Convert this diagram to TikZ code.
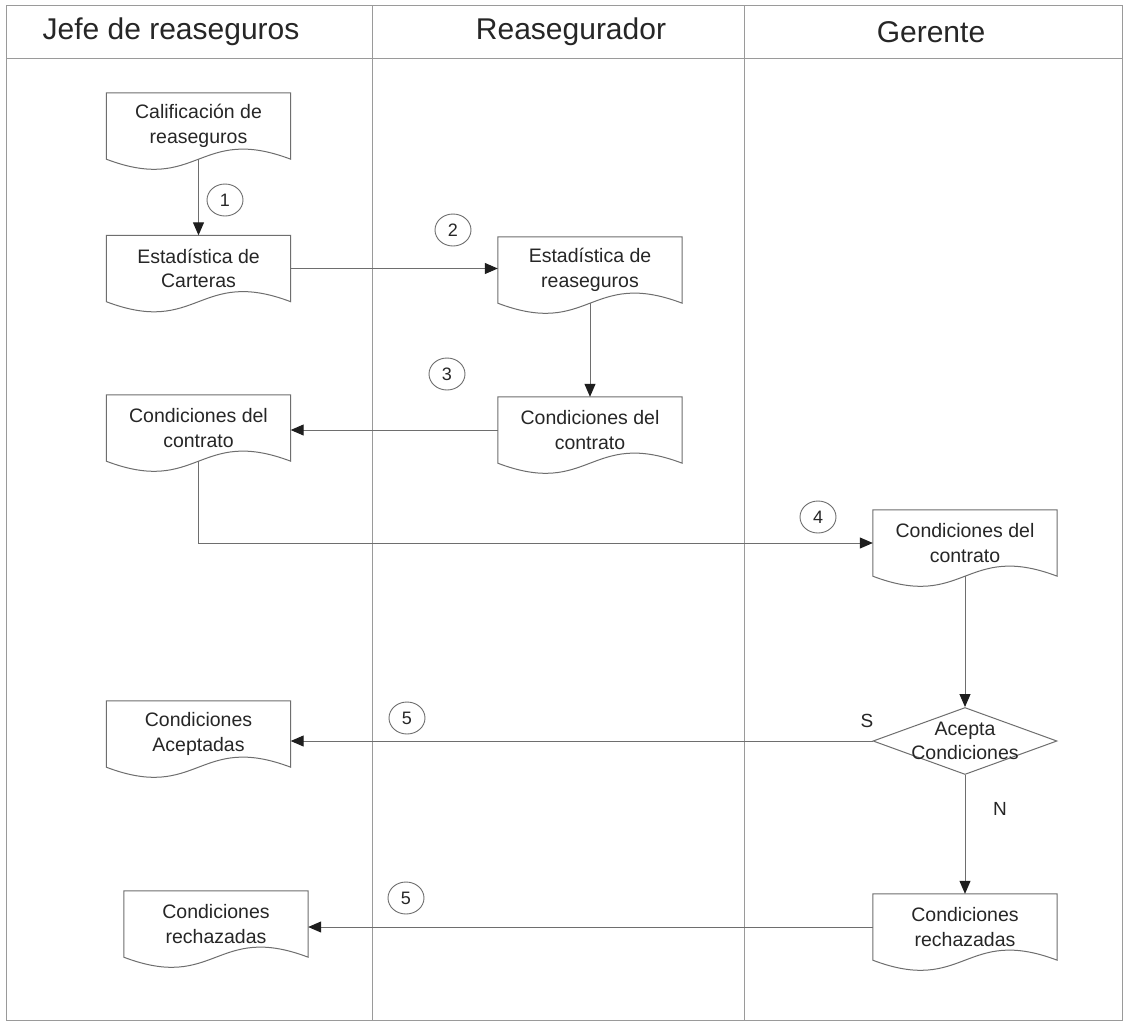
\documentclass[tikz,border=0pt]{standalone}
\usepackage{fontspec}
\setmainfont{Liberation Sans}
\usetikzlibrary{arrows.meta,shapes.geometric,calc}
\definecolor{ink}{HTML}{262626}
\definecolor{rule}{HTML}{9A9A9A}
\definecolor{edge}{HTML}{6E6E6E}
\definecolor{tip}{HTML}{1E1E1E}

% document symbol: rectangle with a wavy bottom edge
\newcommand\docoutline[1]{%
  \draw[docline] (#1.south west) -- (#1.north west) -- (#1.north east) -- (#1.south east)
    .. controls ($(#1.south)+(0,-35)$) and ($(#1.south)+(0,35)$) .. (#1.south west) -- cycle;}

\begin{document}
\begin{tikzpicture}[x=1pt,y=-1pt,
  docbox/.style={rectangle, minimum width=184pt, minimum height=66pt, inner sep=0pt,
    align=center, text=ink, font=\fontsize{19.5}{24.5}\selectfont},
  docline/.style={draw=edge, line width=1pt},
  head/.style={text=ink, font=\fontsize{30}{36}\selectfont},
  num/.style={ellipse, draw=edge, line width=0.9pt, minimum width=36pt, minimum height=32pt,
    inner sep=0pt, text=ink, font=\fontsize{18}{20}\selectfont},
  lbl/.style={text=ink, font=\fontsize{19}{22}\selectfont},
  flow/.style={draw=edge, line width=1pt, -{Triangle[length=13pt,width=11pt,color=tip]}},
  decision/.style={diamond, draw=edge, line width=1pt, minimum width=184pt, minimum height=67pt,
    aspect=2.75, inner sep=0pt}
]
\useasboundingbox (0,0) rectangle (1125,1023);
\fill[white] (0,0) rectangle (1125,1023);

% swimlane frame
\draw[rule, line width=1pt] (6,5) rectangle (1122,1020);
\draw[rule, line width=1pt] (6,58) -- (1122,58);
\draw[rule, line width=1pt] (372,5) -- (372,1020);
\draw[rule, line width=1pt] (744,5) -- (744,1020);

% lane titles
\node[head] (h1) at (171,32) {Jefe de reaseguros};
\node[head] (h2) at (571,32) {Reasegurador};
\node[head] (h3) at (931,32) {Gerente};

% documents
\node[docbox] (A) at (198.5,126) {Calificación de\\reaseguros};
\node[docbox] (B) at (198.5,268.5) {Estadística de\\Carteras};
\node[docbox] (C) at (590,270) {Estadística de\\reaseguros};
\node[docbox] (D) at (590,430) {Condiciones del\\contrato};
\node[docbox] (E) at (198.5,428) {Condiciones del\\contrato};
\node[docbox] (F) at (965,543) {Condiciones del\\contrato};
\node[docbox] (G) at (198.5,734) {Condiciones\\Aceptadas};
\node[docbox] (H) at (965,927) {Condiciones\\rechazadas};
\node[docbox] (I) at (216,924) {Condiciones\\rechazadas};
\foreach \n in {A,B,C,D,E,F,G,H,I} {\docoutline{\n}}

% decision
\node[decision] (Q) at (965,741) {};
\node[text=ink, align=center, font=\fontsize{19.5}{24.5}\selectfont] (Qt) at (Q) {Acepta\\Condiciones};
\node[lbl] (ls) at (867,721) {S};
\node[lbl] (ln) at (1000,809) {N};

% step numbers
\node[num] (n1) at (225,200) {1};
\node[num] (n2) at (453,230) {2};
\node[num] (n3) at (447,374) {3};
\node[num] (n4) at (818,517) {4};
\node[num] (n5a) at (407,718) {5};
\node[num] (n5b) at (406,898) {5};

% flows
\draw[flow] (A.south) -- (B.north);
\draw[flow] (B.east) -- (B.east -| C.west);
\draw[flow] (C.south) -- (D.north);
\draw[flow] (D.west) -- (D.west -| E.east);
\draw[flow] (E.south) |- (F.west);
\draw[flow] (F.south) -- (Q.north);
\draw[flow] (Q.west) -- (Q.west -| G.east);
\draw[flow] (Q.south) -- (H.north);
\draw[flow] (H.west) -- (H.west -| I.east);
\end{tikzpicture}
\end{document}
